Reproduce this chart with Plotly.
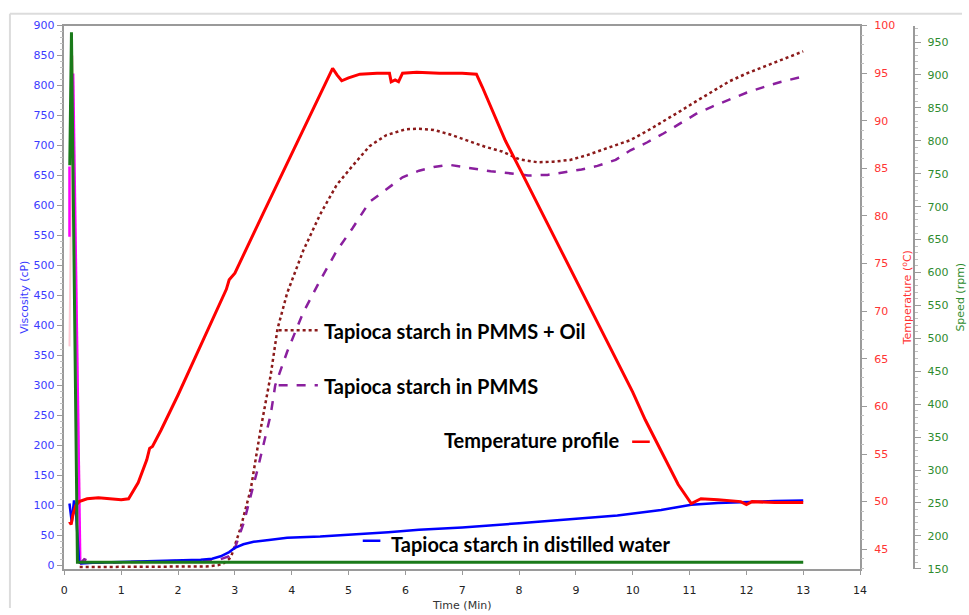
import plotly.graph_objects as go

W, H = 969, 615

# ---------------- data ----------------
# Temperature profile (deg C) vs time (min)
t_temp = [0.09, 0.12, 0.15, 0.2, 0.26, 0.4, 0.6, 0.8, 1.0, 1.13, 1.3, 1.45, 1.5, 1.55, 1.7, 2.0,
          2.5, 2.85, 2.9, 3.0, 3.5, 4.0, 4.5, 4.72, 4.8, 4.88, 5.0, 5.2, 5.5, 5.72, 5.75, 5.82,
          5.88, 5.95, 6.2, 6.6, 7.0, 7.25, 7.35, 7.5, 7.76, 8.0, 8.33, 8.7, 9.0, 9.26, 9.5, 10.0,
          10.22, 10.5, 10.8, 11.03, 11.2, 11.5, 11.9, 12.0, 12.1, 12.5, 13.0]
temp = [47.9, 47.6, 48.6, 49.6, 50.0, 50.3, 50.4, 50.3, 50.2, 50.3, 52.0, 54.4, 55.6, 55.8, 57.5, 61.2,
        67.7, 72.3, 73.3, 74.0, 80.3, 86.6, 92.8, 95.5, 94.8, 94.2, 94.5, 94.9, 95.0, 95.0, 94.1, 94.3,
        94.1, 95.0, 95.1, 95.0, 95.0, 94.9, 93.6, 91.5, 87.9, 85.1, 81.2, 76.8, 73.3, 70.2, 67.4, 61.5,
        58.6, 55.3, 51.8, 49.8, 50.3, 50.2, 50.0, 49.7, 50.0, 49.9, 49.9]

# Tapioca starch in distilled water (cP)
t_water = [0.09, 0.13, 0.17, 0.2, 0.26, 0.3, 0.5, 1.0, 1.5, 2.0, 2.4, 2.6, 2.75, 2.9, 3.0, 3.15,
           3.33, 3.6, 3.92, 4.5, 5.07, 5.7, 6.24, 7.0, 8.0, 9.0, 9.73, 10.5, 11.03, 11.5, 12.05,
           12.5, 13.0]
visc_water = [103, 72, 108, 95, 5, 3, 4, 5, 6, 7, 9, 11, 15, 22, 29, 35,
              39, 42, 46, 48, 51, 55, 59, 63, 70, 77, 83, 92, 101, 104, 106,
              107, 108]

# Tapioca starch in PMMS (cP)
t_pmms = [0.27, 0.35, 0.5, 1.0, 1.5, 2.0, 2.5, 2.75, 2.9, 2.98, 3.16, 3.4, 3.63, 3.71, 3.92, 4.2,
          4.5, 4.79, 5.07, 5.37, 5.66, 5.95, 6.24, 6.5, 6.76, 7.1, 7.5, 7.8, 8.16, 8.5, 8.8, 9.1,
          9.38, 9.7, 9.96, 10.25, 10.54, 10.83, 11.12, 11.4, 11.7, 12.0, 12.29, 12.6, 13.0]
visc_pmms = [2, 10, 4, 5, 6, 7, 8, 10, 15, 23, 72, 160, 251, 300, 356, 421,
             475, 524, 562, 606, 627, 647, 658, 664, 668, 663, 657, 654, 650, 651, 655, 660,
             666, 676, 692, 705, 720, 737, 753, 765, 777, 788, 797, 806, 815]

# Tapioca starch in PMMS + Oil (cP)
t_oil = [0.27, 0.5, 1.0, 1.5, 2.0, 2.5, 2.7, 2.8, 2.93, 3.1, 3.28, 3.45, 3.63, 3.75, 3.92, 4.2,
         4.5, 4.79, 5.07, 5.37, 5.66, 5.89, 6.0, 6.24, 6.5, 6.8, 7.1, 7.4, 7.7, 8.0, 8.33, 8.6,
         8.9, 9.2, 9.5, 9.96, 10.25, 10.54, 10.83, 11.12, 11.4, 11.7, 12.0, 12.29, 12.6, 13.0]
visc_oil = [-3, -3, -3, -3, -3, -2, 0, 3, 13, 62, 127, 225, 317, 394, 454, 524,
            585, 634, 666, 699, 717, 723, 727, 728, 726, 718, 708, 698, 690, 677, 672, 673,
            676, 684, 694, 709, 724, 740, 757, 774, 790, 807, 820, 831, 842, 857]

# Paddle speed (rpm)
t_speed = [0.095, 0.125, 0.23, 13.0]
speed = [763, 965, 160, 160]

# start-up spikes
t_pink = [0.09, 0.145, 0.27]
visc_pink = [365, 850, 100]
t_magenta = [0.09, 0.09, None, 0.155, 0.28]
visc_magenta = [548, 665, None, 820, 2]

x_ticks = list(range(0, 15))

# ---------------- figure ----------------
BLUE = "#0000ff"
RED = "#ff0000"
PURPLE = "#8a1f9e"
DARKRED = "#8b1a1a"
GREEN = "#1a7a1a"
AXC = "#9a9a9a"

fig = go.Figure()
fig.add_trace(go.Scatter(x=t_pink, y=visc_pink, mode="lines",
                         line=dict(color="#ffc8d2", width=2), yaxis="y"))
fig.add_trace(go.Scatter(x=t_magenta, y=visc_magenta, mode="lines",
                         line=dict(color="#ff00ff", width=2.5), yaxis="y"))
fig.add_trace(go.Scatter(x=t_oil, y=visc_oil, mode="lines", name="Tapioca starch in PMMS + Oil",
                         line=dict(color=DARKRED, width=2.5, dash="dot"), yaxis="y"))
fig.add_trace(go.Scatter(x=t_pmms, y=visc_pmms, mode="lines", name="Tapioca starch in PMMS",
                         line=dict(color=PURPLE, width=2.5, dash="dash"), yaxis="y"))
fig.add_trace(go.Scatter(x=t_water, y=visc_water, mode="lines", name="Tapioca starch in distilled water",
                         line=dict(color=BLUE, width=2.5), yaxis="y"))
fig.add_trace(go.Scatter(x=t_speed, y=speed, mode="lines", name="Speed",
                         line=dict(color=GREEN, width=3), yaxis="y3"))
fig.add_trace(go.Scatter(x=t_temp, y=temp, mode="lines", name="Temperature profile",
                         line=dict(color=RED, width=3), yaxis="y2"))

x0p, x1p = 62 / W, 866 / W
y0p, y1p = (H - 575) / H, (H - 20) / H

fig.update_layout(
    width=W, height=H,
    margin=dict(l=0, r=0, t=0, b=0),
    paper_bgcolor="white", plot_bgcolor="white",
    showlegend=False,
    xaxis=dict(domain=[x0p, x1p], range=[0, 14], tickvals=x_ticks, ticks="outside", ticklen=4,
               tickcolor=AXC, showline=True, linecolor=AXC, linewidth=1.5, mirror=True,
               showgrid=False, zeroline=False, ticklabelstandoff=6,
               tickfont=dict(family="DejaVu Sans", size=11, color="#222"),
               title=dict(text="Time (Min)", font=dict(family="DejaVu Sans", size=11, color="#333"), standoff=6)),
    yaxis=dict(domain=[y0p, y1p], range=[-6, 900], dtick=50, tick0=0, ticks="outside", ticklen=6,
               tickcolor=AXC, showline=True, linecolor=AXC, linewidth=1.5, mirror=True,
               showgrid=False, zeroline=False,
               minor=dict(ticks="outside", dtick=10, ticklen=3, tickcolor="#c0c0c0"),
               tickfont=dict(family="DejaVu Sans", size=11, color="#3b3bff"),
               title=dict(text="Viscosity (cP)", font=dict(family="DejaVu Sans", size=11, color="#3b3bff"), standoff=3)),
    yaxis2=dict(overlaying="y", side="right", anchor="x", range=[42.94, 100], dtick=5, tick0=45,
                ticks="outside", ticklen=6, tickcolor=AXC, showline=False, showgrid=False, zeroline=False,
                minor=dict(ticks="outside", dtick=1, ticklen=3, tickcolor="#c0c0c0"),
                tickfont=dict(family="DejaVu Sans", size=11, color="#ff3333"), ticklabelstandoff=5,
                title=dict(text="Temperature (<sup>o</sup>C)", font=dict(family="DejaVu Sans", size=11, color="#ff3333"), standoff=9)),
    yaxis3=dict(overlaying="y", side="right", anchor="free", position=921 / W, range=[150, 975],
                dtick=50, tick0=150, ticks="outside", ticklen=6, tickcolor=AXC, showline=True,
                linecolor=AXC, linewidth=1.5, showgrid=False, zeroline=False, ticklabelstandoff=4,
                minor=dict(ticks="outside", dtick=10, ticklen=3, tickcolor="#c0c0c0"),
                tickfont=dict(family="DejaVu Sans", size=11, color="#2e8b2e"),
                title=dict(text="Speed (rpm)", font=dict(family="DejaVu Sans", size=11, color="#2e8b2e"), standoff=8)),
)

# outer frame (top and left edges)
fig.add_shape(type="line", xref="paper", yref="paper", x0=7 / W, x1=1, y0=(H - 8) / H, y1=(H - 8) / H,
              line=dict(color="#dcdcdc", width=2))
fig.add_shape(type="line", xref="paper", yref="paper", x0=7 / W, x1=7 / W, y0=0, y1=(H - 8) / H,
              line=dict(color="#dcdcdc", width=2))

# label leaders and labels
afont = dict(family="Lato", size=20, color="black")
labels = [
    ("Tapioca starch in PMMS + Oil", 4.53, 390, 3.77, 4.46, 392, DARKRED, "dot"),
    ("Tapioca starch in PMMS", 4.53, 299, 3.77, 4.46, 300, PURPLE, "dash"),
    ("Temperature profile", 6.64, 209, 9.99, 10.3, 206, RED, "solid"),
    ("Tapioca starch in distilled water", 5.72, 36, 5.25, 5.56, 41, BLUE, "solid"),
]
for text, tx, ty, lx0, lx1, ly, col, dash in labels:
    fig.add_shape(type="line", xref="x", yref="y", x0=lx0, x1=lx1, y0=ly, y1=ly,
                  line=dict(color=col, width=2.5, dash=dash))
    fig.add_annotation(x=tx, y=ty, xref="x", yref="y", text="<b>" + text + "</b>", showarrow=False,
                       xanchor="left", yanchor="middle", font=afont)

fig.write_html("out.html")
